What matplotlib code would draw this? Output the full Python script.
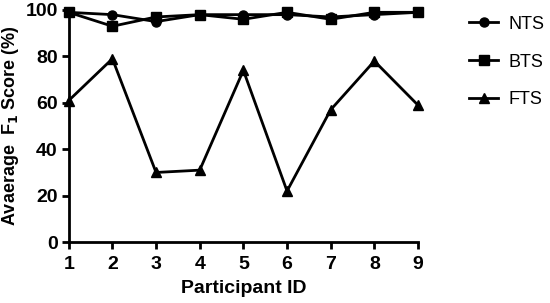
import matplotlib
matplotlib.use("Agg")
import matplotlib.pyplot as plt

participants = [1, 2, 3, 4, 5, 6, 7, 8, 9]
nts = [99, 98, 95, 98, 98, 98, 97, 98, 99]
bts = [99, 93, 97, 98, 96, 99, 96, 99, 99]
fts = [61, 79, 30, 31, 74, 22, 57, 78, 59]

plt.rcParams['font.family'] = ['Liberation Sans', 'DejaVu Sans']

fig = plt.figure(figsize=(5.5, 3.03), dpi=100)
ax = fig.add_axes([0.125, 0.201, 0.635, 0.766])

ax.plot(participants, nts, color='black', lw=2, marker='o', ms=6.5, label='NTS', clip_on=False)
ax.plot(participants, bts, color='black', lw=2, marker='s', ms=6.5, label='BTS', clip_on=False)
ax.plot(participants, fts, color='black', lw=2, marker='^', ms=6.5, label='FTS', clip_on=False)

ax.set_xlim(1, 9)
ax.set_ylim(0, 100)
ax.set_xticks(participants)
ax.set_yticks([0, 20, 40, 60, 80, 100])
ax.spines['top'].set_visible(False)
ax.spines['right'].set_visible(False)
for s in ['left', 'bottom']:
    ax.spines[s].set_linewidth(2)
ax.tick_params(direction='out', width=2, length=5, labelsize=14, pad=3)
ax.tick_params(axis='x', pad=5)
for lbl in ax.get_xticklabels() + ax.get_yticklabels():
    lbl.set_fontweight('bold')

ax.set_xlabel('Participant ID', fontsize=14, fontweight='bold', labelpad=5)
ax.set_ylabel('Avaerage  F$_\\mathbf{1}$ Score (%)', fontsize=13, fontweight='bold', labelpad=3)

ax.legend(loc='upper left', bbox_to_anchor=(1.1, 1.045), frameon=False,
          fontsize=13, handlelength=1.6, handletextpad=0.6, labelspacing=1.15)

fig.savefig('out.png', dpi=100)
